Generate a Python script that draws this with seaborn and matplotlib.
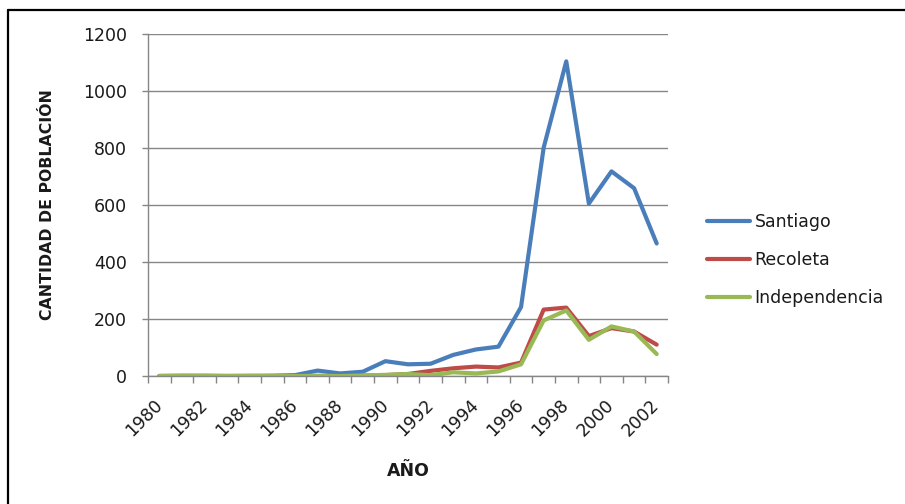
import matplotlib
matplotlib.use("Agg")
import matplotlib.pyplot as plt
from matplotlib.lines import Line2D
from matplotlib.ticker import FixedLocator
import seaborn as sns
import pandas as pd

anios = [1980, 1981, 1982, 1983, 1984, 1985, 1986, 1987, 1988, 1989, 1990, 1991,
         1992, 1993, 1994, 1995, 1996, 1997, 1998, 1999, 2000, 2001, 2002]
santiago = [0, 0, 1, 0, 0, 1, 3, 19, 9, 15, 52, 41,
            43, 74, 93, 103, 242, 801, 1104, 605, 718, 659, 465]
recoleta = [0, 1, 0, 0, 0, 0, 0, 0, 0, 1, 3, 7,
            18, 27, 33, 30, 47, 233, 240, 140, 168, 156, 110]
independencia = [0, 0, 0, 0, 1, 0, 0, 1, 0, 2, 4, 7,
                 3, 13, 9, 16, 41, 195, 230, 127, 174, 156, 77]
comunas = ["Santiago", "Recoleta", "Independencia"]
colores = ["#4A7EBB", "#BE4B48", "#98B954"]

filas = []
for nombre, serie in zip(comunas, [santiago, recoleta, independencia]):
    for i, (anio, valor) in enumerate(zip(anios, serie)):
        filas.append({"pos": i, "anio": anio, "valor": valor, "comuna": nombre})
df = pd.DataFrame(filas)

sns.set_theme(style="white")
plt.rcParams["font.family"] = ["DejaVu Sans"]
C_GRIS = "#868686"
C_TEXTO = "#1a1a1a"
TAM = 12.5

fig = plt.figure(figsize=(9.05, 5.04), dpi=100)
ax = fig.add_axes([148 / 905, 1 - 376 / 504, 520 / 905, 342 / 504])

sns.lineplot(data=df, x="pos", y="valor", hue="comuna", hue_order=comunas,
             palette=colores, linewidth=3, ax=ax)

ax.set_xlim(-0.5, len(anios) - 0.5)
ax.set_ylim(0, 1200)
ax.set_yticks(range(0, 1201, 200))
ax.grid(axis="y", color=C_GRIS, linewidth=1)
ax.grid(axis="x", visible=False)
ax.set_axisbelow(True)

for lado in ["top", "right"]:
    ax.spines[lado].set_visible(False)
for lado in ["left", "bottom"]:
    ax.spines[lado].set_color(C_GRIS)
    ax.spines[lado].set_linewidth(1)

pos_etiquetas = list(range(0, len(anios), 2))
ax.set_xticks(pos_etiquetas)
ax.set_xticklabels([str(anios[i]) for i in pos_etiquetas], rotation=45,
                   ha="right", va="center", rotation_mode="anchor")
ax.xaxis.set_minor_locator(FixedLocator([i - 0.5 for i in range(len(anios) + 1)]))
ax.tick_params(axis="x", which="major", length=0, pad=19, labelsize=TAM, colors=C_TEXTO)
ax.tick_params(axis="x", which="minor", bottom=True, length=5, width=1, color=C_GRIS, direction="out")
ax.tick_params(axis="y", left=True, length=4, width=1, color=C_GRIS, pad=11,
               labelsize=TAM, labelcolor=C_TEXTO, direction="out")

ax.set_xlabel("AÑO", fontsize=12.5, fontweight="bold", color=C_TEXTO, va="top")
ax.xaxis.set_label_coords(0.5, -0.252)
ax.set_ylabel("CANTIDAD DE POBLACIÓN", fontsize=11.3, fontweight="bold", color=C_TEXTO)
ax.yaxis.set_label_coords(-0.179, 0.5)

sns.move_legend(ax, "center left", bbox_to_anchor=(1.061, 0.338), frameon=False,
                title=None, fontsize=TAM, handlelength=2.5, handletextpad=0.25,
                labelspacing=1.15, borderaxespad=0)
for t in ax.get_legend().get_texts():
    t.set_color(C_TEXTO)

fig.add_artist(Line2D([8 / 905, 1], [1 - 10 / 504] * 2, transform=fig.transFigure,
                      color="black", linewidth=1.6))
fig.add_artist(Line2D([8 / 905] * 2, [0, 1 - 10 / 504], transform=fig.transFigure,
                      color="black", linewidth=1.6))

fig.savefig("out.png", dpi=100, facecolor="white")
plt.close(fig)
